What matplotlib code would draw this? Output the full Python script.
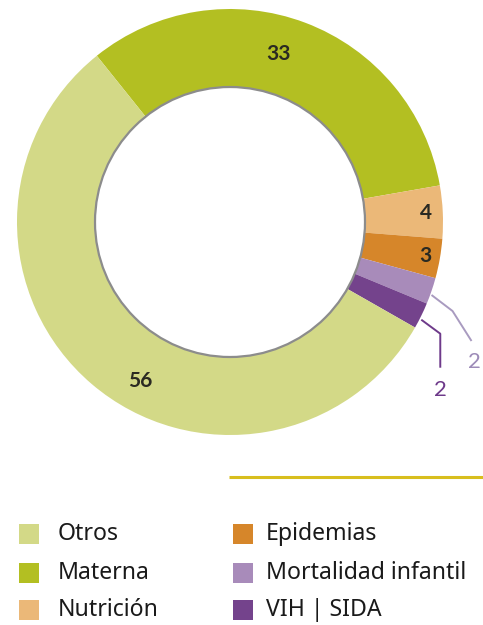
import matplotlib
matplotlib.use("Agg")
import matplotlib.pyplot as plt
import numpy as np
from matplotlib.patches import Circle, Rectangle

# ---- data ----
categories = ["Materna", "Nutrición", "Epidemias", "Mortalidad infantil", "VIH | SIDA", "Otros"]
values = [33, 4, 3, 2, 2, 56]
colors = ["#B3BF22", "#EBB878", "#D6862A", "#A88BBA", "#74438C", "#D3D987"]
slice_labels = ["33", "4", "3", "2", "2", "56"]

legend_order = ["Otros", "Materna", "Nutrición", "Epidemias", "Mortalidad infantil", "VIH | SIDA"]

W, H = 483, 625
fig = plt.figure(figsize=(W / 100, H / 100), dpi=100)
ax = fig.add_axes([0, 0, 1, 1])

cx, cy = 230, H - 222
R_out, R_in = 213, 135
start = 128.7

wedges, _ = ax.pie(values, colors=colors, startangle=start, counterclock=False,
                   radius=R_out, center=(cx, cy),
                   wedgeprops=dict(width=R_out - R_in, edgecolor="none", linewidth=0))
ax.add_patch(Circle((cx, cy), R_in, facecolor="white", edgecolor="#8C8C8C", linewidth=1.6, zorder=5))

# label placement (fraction along slice, radius)
total = sum(values)
angles = []
a = start
for v in values:
    span = v / total * 360
    angles.append((a, a - span))
    a -= span

label_pos = {0: (0.46, 175), 1: (0.5, 196), 2: (0.5, 198), 5: (0.445, 182)}
for i, (f, r) in label_pos.items():
    a0, a1 = angles[i]
    ang = np.deg2rad(a0 + (a1 - a0) * f)
    ax.text(cx + r * np.cos(ang), cy + r * np.sin(ang), slice_labels[i],
            ha="center", va="center", fontsize=15, fontweight="bold",
            color="#2A2A22", family="Lato", zorder=6)

# leader lines for small slices
for i, col, offs, tcol, toff in [
    (3, "#A99BC0", [(0, -4), (21, -20), (40, -50)], "#9D8BB8", (43, -71)),
    (4, "#6E3A8A", [(0, -4), (19, -18), (19, -52)], "#6E3A8A", (19, -74)),
]:
    a0, a1 = angles[i]
    ang = np.deg2rad((a0 + a1) / 2)
    x0, y0 = cx + R_out * np.cos(ang), cy + R_out * np.sin(ang)
    xs = [x0 + dx for dx, dy in offs]
    ys = [y0 + dy for dx, dy in offs]
    ax.plot(xs, ys, color=col, linewidth=1.4, solid_capstyle="butt", zorder=4)
    ax.text(x0 + toff[0], y0 + toff[1], slice_labels[i], ha="center", va="center",
            fontsize=16, color=tcol, family="Lato", zorder=6)

# golden separator line
ax.plot([229, 483], [H - 477, H - 477], color="#D8BE1E", linewidth=2.2, solid_capstyle="butt")

# legend
col_x = [19, 233]
text_x = [58, 266]
row_y = [534, 573, 610]
sq = 20
for k, name in enumerate(legend_order):
    c = colors[categories.index(name)]
    x = col_x[k // 3]
    y = H - row_y[k % 3]
    ax.add_patch(Rectangle((x, y - sq / 2), sq, sq, facecolor=c, edgecolor="none"))
    ax.text(text_x[k // 3], y, name, ha="left", va="center",
            fontsize=16.6, color="#1A1A1A", family="Noto Sans")

ax.set_xlim(0, W)
ax.set_ylim(0, H)
ax.set_aspect("equal")
ax.axis("off")
fig.savefig("out.png", dpi=100)
